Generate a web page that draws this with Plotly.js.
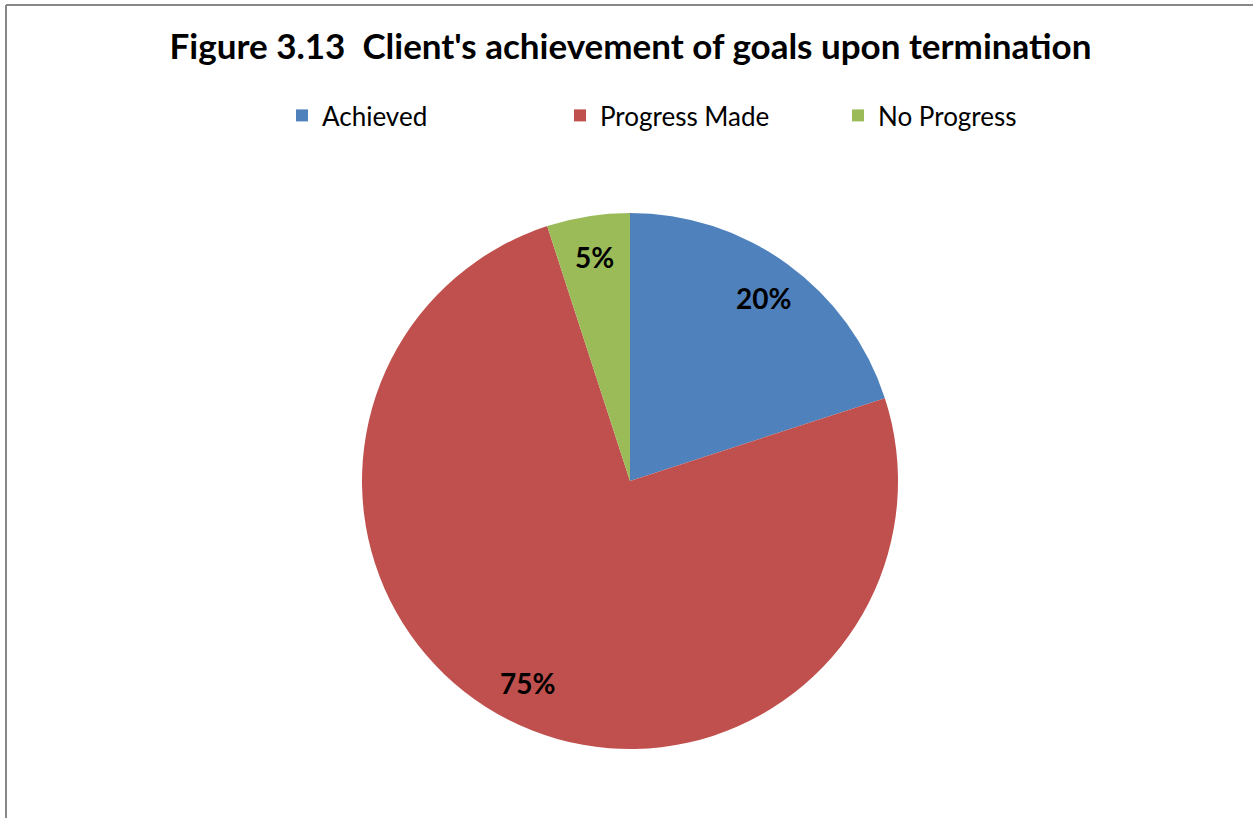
<!DOCTYPE html>
<html>
<head>
<meta charset="utf-8">
<script src="https://cdn.plot.ly/plotly-3.0.1.min.js"></script>
<style>
  html, body { margin: 0; padding: 0; background: #ffffff; }
  #chart { width: 1253px; height: 818px; }
</style>
</head>
<body>
<div id="chart"></div>
<script>
// ---- data ----
const categories = ["Achieved", "Progress Made", "No Progress"];
const values = [20, 75, 5];
const sliceColors = ["#4F81BD", "#C0504D", "#9BBB59"];
const chartTitle = "Figure 3.13  Client's achievement of goals upon termination";

// ---- layout geometry (pixels) ----
const W = 1253, H = 818;
const CX = 630, CY = 481, R = 268;
const labelRadius = 0.845;

const domainX = [(CX - R) / W, (CX + R) / W];
const domainY = [1 - (CY + R) / H, 1 - (CY - R) / H];

// percentage labels positioned from the data (clockwise from 12 o'clock)
const total = values.reduce((a, b) => a + b, 0);
let cum = 0;
const labelAnnotations = values.map((v) => {
  const mid = (cum + v / 2) / total;
  cum += v;
  const theta = mid * 2 * Math.PI;
  const px = CX + labelRadius * R * Math.sin(theta);
  const py = CY - labelRadius * R * Math.cos(theta);
  return {
    x: px / W, y: 1 - py / H, xref: "paper", yref: "paper",
    text: Math.round(v / total * 100) + "%",
    showarrow: false,
    font: { family: "Lato, 'Open Sans', sans-serif", size: 28, color: "#000000", weight: "bold" },
    xanchor: "center", yanchor: "middle"
  };
});

const trace = {
  type: "pie",
  labels: categories,
  values: values,
  sort: false,
  direction: "clockwise",
  rotation: 0,
  marker: { colors: sliceColors, line: { width: 0 } },
  textinfo: "none",
  hoverinfo: "label+percent",
  domain: { x: domainX, y: domainY },
  automargin: false
};

const layout = {
  width: W, height: H,
  margin: { l: 0, r: 0, t: 0, b: 0 },
  paper_bgcolor: "#ffffff",
  plot_bgcolor: "#ffffff",
  title: {
    text: "<b>" + chartTitle + "</b>",
    x: 630.5 / W, xanchor: "center",
    y: 1 - 47 / H, yanchor: "middle",
    font: { family: "Lato, 'Open Sans', sans-serif", size: 35, color: "#000000" }
  },
  showlegend: true,
  legend: {
    orientation: "h",
    x: 282 / W, xanchor: "left",
    y: 1 - 92 / H, yanchor: "top",
    font: { family: "Lato, 'Open Sans', sans-serif", size: 26, color: "#000000" },
    entrywidth: 233, entrywidthmode: "pixels",
    bgcolor: "rgba(0,0,0,0)"
  },
  annotations: labelAnnotations,
  shapes: [
    { type: "line", xref: "paper", yref: "paper", x0: 6 / W, x1: 6 / W, y0: 0, y1: 1 - 5 / H,
      line: { color: "#888888", width: 2 } },
    { type: "line", xref: "paper", yref: "paper", x0: 6 / W, x1: 1, y0: 1 - 5 / H, y1: 1 - 5 / H,
      line: { color: "#888888", width: 2 } }
  ]
};

Plotly.newPlot("chart", [trace], layout, { displayModeBar: false, staticPlot: true });
</script>
</body>
</html>
